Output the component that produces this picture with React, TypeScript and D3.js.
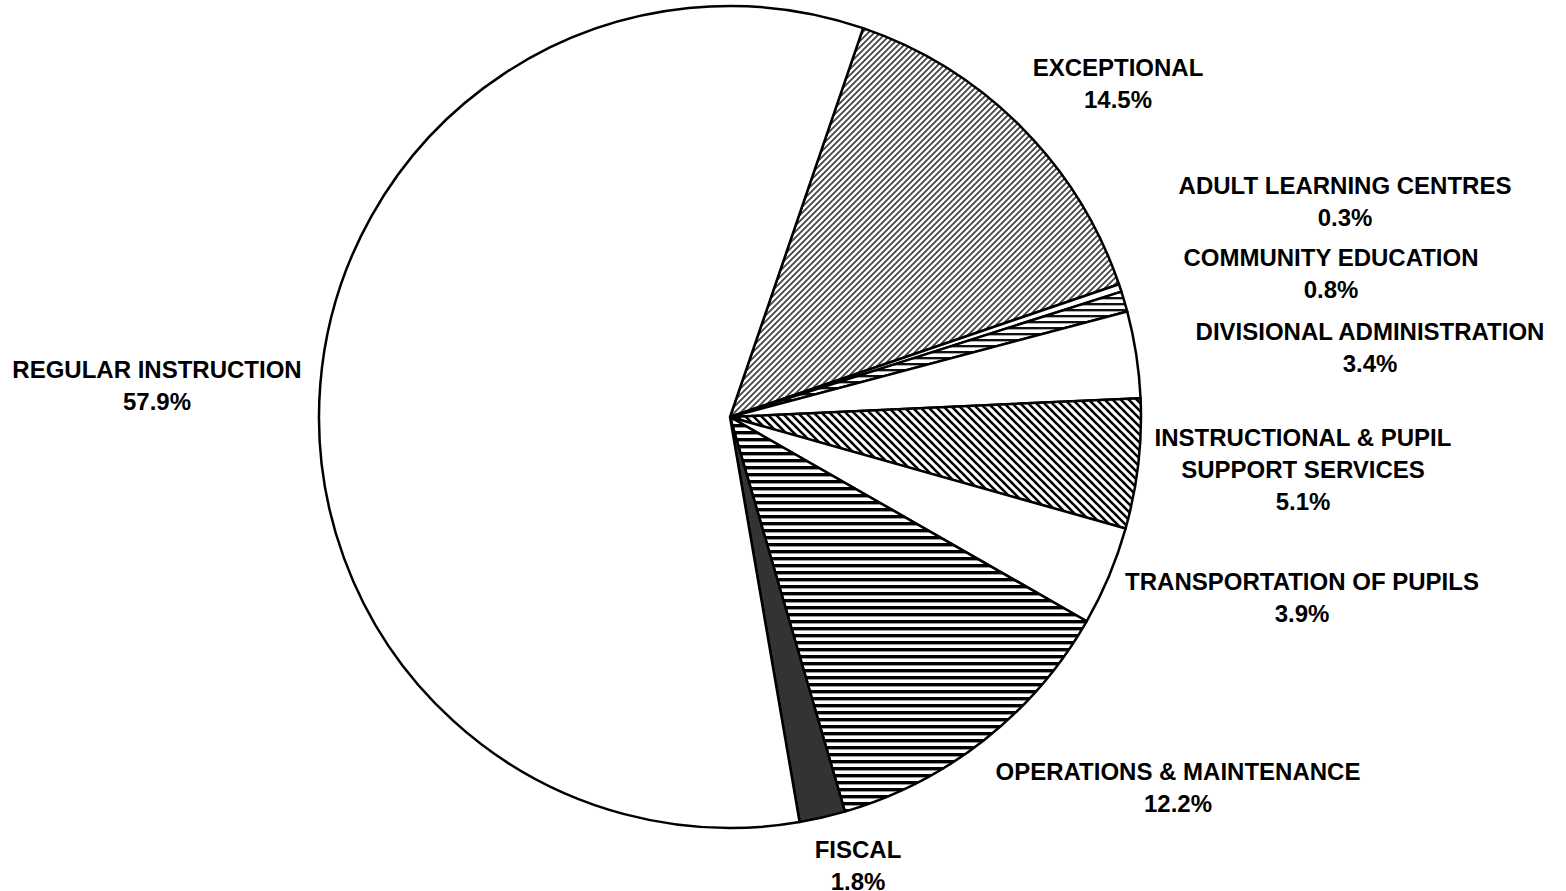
import React from "react";
import * as d3 from "d3";

const categories = [
  "EXCEPTIONAL",
  "ADULT LEARNING CENTRES",
  "COMMUNITY EDUCATION",
  "DIVISIONAL ADMINISTRATION",
  "INSTRUCTIONAL & PUPIL SUPPORT SERVICES",
  "TRANSPORTATION OF PUPILS",
  "OPERATIONS & MAINTENANCE",
  "FISCAL",
  "REGULAR INSTRUCTION",
];
const values = [14.5, 0.3, 0.8, 3.4, 5.1, 3.9, 12.2, 1.8, 57.9];
const labelLines = [
  ["EXCEPTIONAL", "14.5%"],
  ["ADULT LEARNING CENTRES", "0.3%"],
  ["COMMUNITY EDUCATION", "0.8%"],
  ["DIVISIONAL ADMINISTRATION", "3.4%"],
  ["INSTRUCTIONAL & PUPIL", "SUPPORT SERVICES", "5.1%"],
  ["TRANSPORTATION OF PUPILS", "3.9%"],
  ["OPERATIONS & MAINTENANCE", "12.2%"],
  ["FISCAL", "1.8%"],
  ["REGULAR INSTRUCTION", "57.9%"],
];
const fills = [
  "url(#pExc)",
  "#ffffff",
  "url(#pCom)",
  "#ffffff",
  "url(#pIns)",
  "#ffffff",
  "url(#pOps)",
  "#333333",
  "#ffffff",
];
// label anchor positions (center x, first line center y)
const labelPos: [number, number][] = [
  [1118, 67],
  [1345, 185],
  [1331, 257],
  [1370, 331],
  [1303, 437],
  [1302, 581],
  [1178, 771],
  [858, 849],
  [157, 369],
];

export default function App() {
  const cx = 730;
  const cy = 417;
  const r = 411;
  const start = (18.9 * Math.PI) / 180;
  const pie = d3
    .pie<number>()
    .sort(null)
    .value((d) => d)
    .startAngle(start)
    .endAngle(start + 2 * Math.PI);
  const arcs = pie(values);
  const arc = d3.arc<d3.PieArcDatum<number>>().innerRadius(0).outerRadius(r);
  const lineH = 32;
  return (
    <svg
      width={1566}
      height={891}
      style={{ position: "absolute", left: 0, top: 0, background: "#fff" }}
    >
      <defs>
        <pattern id="pExc" patternUnits="userSpaceOnUse" width={6} height={6}>
          <rect width={6} height={6} fill="#fff" />
          <path d="M-1,1 l2,-2 M0,6 l6,-6 M5,7 l2,-2" stroke="#444" strokeWidth={1.8} />
        </pattern>
        <pattern id="pIns" patternUnits="userSpaceOnUse" width={8} height={8}>
          <rect width={8} height={8} fill="#fff" />
          <path d="M-2,-2 l12,12 M-2,6 l4,4 M6,-2 l4,4" stroke="#000" strokeWidth={2.6} />
        </pattern>
        <pattern id="pOps" patternUnits="userSpaceOnUse" width={7} height={7}>
          <rect width={7} height={7} fill="#fff" />
          <rect y={0} width={7} height={3} fill="#000" />
          <rect y={3} width={7} height={1} fill="#999" />
        </pattern>
        <pattern id="pCom" patternUnits="userSpaceOnUse" width={6} height={6}>
          <rect width={6} height={6} fill="#fff" />
          <rect y={0} width={6} height={2} fill="#111" />
          <rect y={2} width={6} height={1} fill="#aaa" />
        </pattern>
      </defs>
      <g transform={`translate(${cx},${cy})`}>
        {arcs.map((a, i) => (
          <path
            key={categories[i]}
            d={arc(a) || ""}
            fill={fills[i]}
            stroke="#000"
            strokeWidth={2.5}
            strokeLinejoin="round"
          />
        ))}
      </g>
      <g
        fontFamily="'Liberation Sans', Arial, sans-serif"
        fontWeight="bold"
        fontSize={24}
        fill="#000"
        textAnchor="middle"
      >
        {labelLines.map((lines, i) => (
          <text key={categories[i]} x={labelPos[i][0]} y={labelPos[i][1]} dominantBaseline="central">
            {lines.map((t, j) => (
              <tspan key={j} x={labelPos[i][0]} y={labelPos[i][1] + j * lineH}>
                {t}
              </tspan>
            ))}
          </text>
        ))}
      </g>
    </svg>
  );
}
